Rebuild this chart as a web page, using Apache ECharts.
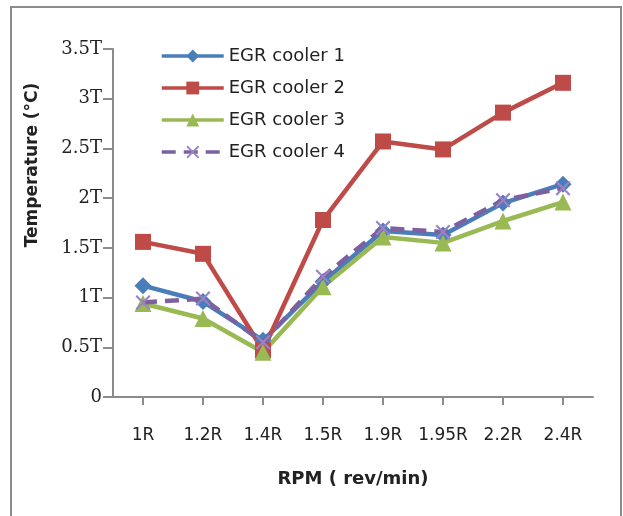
<!DOCTYPE html>
<html>
<head>
<meta charset="utf-8">
<script src="https://cdn.jsdelivr.net/npm/echarts@6/dist/echarts.min.js"></script>
<style>
  html, body { margin: 0; padding: 0; background: #fff; }
  #chart { width: 623px; height: 516px; }
</style>
</head>
<body>
<div id="chart"></div>
<script>
var rpm = ["1R", "1.2R", "1.4R", "1.5R", "1.9R", "1.95R", "2.2R", "2.4R"];
var cooler1 = [1.12, 0.96, 0.57, 1.16, 1.67, 1.63, 1.95, 2.14];
var cooler2 = [1.56, 1.44, 0.47, 1.78, 2.57, 2.49, 2.86, 3.16];
var cooler3 = [0.94, 0.79, 0.45, 1.11, 1.61, 1.55, 1.77, 1.96];
var cooler4 = [0.95, 0.99, 0.55, 1.21, 1.7, 1.66, 1.98, 2.1];
var yTicks = ["0", "0.5T", "1T", "1.5T", "2T", "2.5T", "3T", "3.5T"];

var myChart = echarts.init(document.getElementById("chart"));

var crossPath = "path://M0,1L1,0L5,4L9,0L10,1L6,5L10,9L9,10L5,6L1,10L0,9L4,5Z";
var sans = "'DejaVu Sans', sans-serif";

function line(name, data, color, symbol, size, dashed) {
  return {
    name: name,
    type: "line",
    data: data,
    symbol: symbol,
    symbolSize: size,
    lineStyle: { color: color, width: 4.5, type: dashed ? [14, 8] : "solid" },
    itemStyle: { color: dashed ? "#9a83c4" : color },
    z: dashed ? 4 : 3,
  };
}

var option = {
  animation: false,
  backgroundColor: "#fff",
  graphic: [
    {
      type: "rect",
      shape: { x: 11, y: 7, width: 610, height: 520 },
      style: { fill: "none", stroke: "#8c8c8c", lineWidth: 2 },
      silent: true,
    },
    {
      type: "text",
      x: 33,
      y: 165,
      rotation: Math.PI / 2,
      style: {
        text: "Temperature (°C)",
        font: "bold 17px 'DejaVu Sans', sans-serif",
        fill: "#222",
        align: "center",
        verticalAlign: "middle",
      },
    },
  ],
  legend: {
    orient: "vertical",
    left: 155,
    top: 42,
    itemWidth: 62,
    itemHeight: 16,
    itemGap: 14,
    lineStyle: { width: 3.5 },
    textStyle: { fontSize: 18, color: "#222", fontFamily: sans },
    data: ["EGR cooler 1", "EGR cooler 2", "EGR cooler 3", "EGR cooler 4"],
  },
  grid: { left: 113, right: 30, top: 49, bottom: 119 },
  xAxis: {
    type: "category",
    data: rpm,
    boundaryGap: true,
    name: "RPM ( rev/min)",
    nameLocation: "middle",
    nameGap: 73,
    nameTextStyle: { fontSize: 18, fontWeight: "bold", color: "#222", fontFamily: sans },
    axisLine: { lineStyle: { color: "#8c8c8c", width: 2 } },
    axisTick: { show: true, alignWithLabel: true, interval: 0, length: 8, lineStyle: { color: "#8c8c8c", width: 2 } },
    axisLabel: { interval: 0, margin: 30, fontSize: 17, color: "#222", fontFamily: sans },
  },
  yAxis: {
    type: "value",
    min: 0,
    max: 3.5,
    interval: 0.5,
    axisLine: { show: true, lineStyle: { color: "#8c8c8c", width: 2 } },
    axisTick: { show: true, length: 10, lineStyle: { color: "#8c8c8c", width: 2 } },
    splitLine: { show: false },
    axisLabel: {
      margin: 11,
      fontSize: 18,
      color: "#222",
      fontFamily: "'DejaVu Serif', serif",
      formatter: function (v) { return yTicks[Math.round(v / 0.5)]; },
    },
  },
  series: [
    line("EGR cooler 1", cooler1, "#4a7ebb", "diamond", 17, false),
    line("EGR cooler 2", cooler2, "#be4b48", "rect", 16, false),
    line("EGR cooler 3", cooler3, "#98b954", "triangle", 17, false),
    line("EGR cooler 4", cooler4, "#7d60a0", crossPath, 15, true),
  ],
};

myChart.setOption(option);
</script>
</body>
</html>
